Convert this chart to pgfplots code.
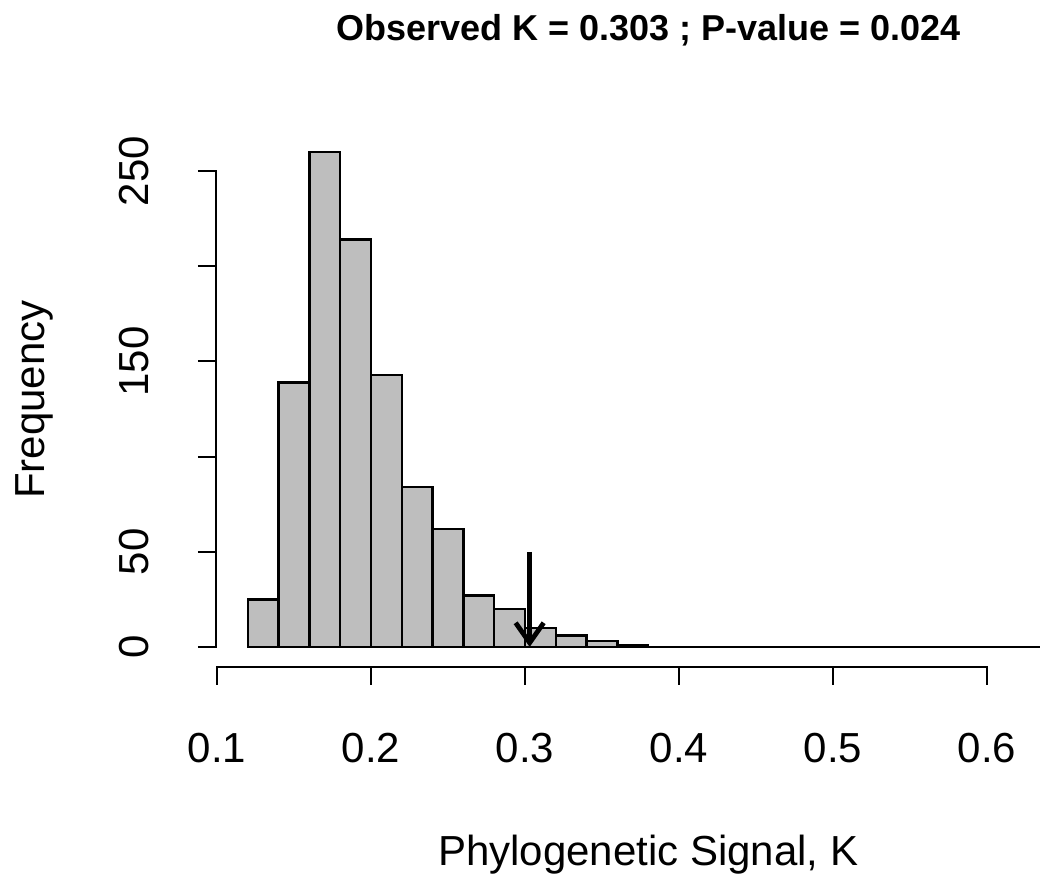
\documentclass[border=0pt]{standalone}
\usepackage{fontspec}
\setmainfont{Liberation Sans}
\usepackage{pgfplots}
\pgfplotsset{compat=1.18}
\usetikzlibrary{arrows.meta}
\definecolor{rgrey}{HTML}{BEBEBE}

\begin{document}
\begin{tikzpicture}
\begin{axis}[
  scale only axis, width=432.45pt, height=267.3pt,
  xmin=0.0992, xmax=0.6608, ymin=-10.4, ymax=270.4,
  clip=false,
  axis x line*=bottom, axis y line*=left,
  axis line style={draw=none},
  tick align=outside, major tick length=9pt,
  every tick/.style={black, line width=1pt},
  xtick={0.1,0.2,0.3,0.4,0.5,0.6},
  xticklabels={0.1,0.2,0.3,0.4,0.5,0.6},
  ytick={0,50,100,150,200,250},
  yticklabels={0,50,,150,,250},
  /pgf/number format/assume math mode=true,
  tick label style={font=\fontsize{21}{25}\selectfont, inner sep=0pt},
  xticklabel style={anchor=north},
  yticklabel style={rotate=90, anchor=south},
  xticklabel shift=24pt, yticklabel shift=24pt,
  title={Observed K = 0.303 ; P-value = 0.024},
  every axis title/.style={at={(axis description cs:0.5,1.1908)}, anchor=center,
    font=\bfseries\fontsize{18}{21}\selectfont},
  xlabel={Phylogenetic Signal, K},
  ylabel={Frequency},
  every axis x label/.style={at={(axis description cs:0.5,-0.3517)}, anchor=center,
    font=\fontsize{21}{25}\selectfont},
  every axis y label/.style={at={(axis description cs:-0.2095,0.5)}, rotate=90, anchor=center,
    font=\fontsize{21}{25}\selectfont},
]
% histogram of simulated K values (bin width 0.02)
\addplot[ybar interval, fill=rgrey, draw=black, line width=1.2pt] coordinates {
  (0.12,25)(0.14,139)(0.16,260)(0.18,214)(0.20,143)(0.22,84)(0.24,62)
  (0.26,27)(0.28,20)(0.30,10)(0.32,6)(0.34,3)(0.36,1)(0.38,0)(0.40,0)
  (0.42,0)(0.44,0)(0.46,0)(0.48,0)(0.50,0)(0.52,0)(0.54,0)(0.56,0)
  (0.58,0)(0.60,0)(0.62,0)(0.64,0)};
% observed K
\draw[line width=2.4pt, -{Straight Barb[length=10pt,width=14pt]}]
  (axis cs:0.303,50) -- (axis cs:0.303,0);
% R-style axis lines spanning only the tick range
\draw[line width=1pt, line cap=rect] (axis cs:0.1,-10.4) -- (axis cs:0.6,-10.4);
\draw[line width=1pt, line cap=rect] (axis cs:0.0992,0) -- (axis cs:0.0992,250);
\end{axis}
\pgfresetboundingbox
\useasboundingbox ([shift={(-107.9pt,-105.1pt)}]current axis.south west)
  rectangle ([shift={(-20.35pt,66.1pt)}]current axis.north east);
\end{tikzpicture}
\end{document}
